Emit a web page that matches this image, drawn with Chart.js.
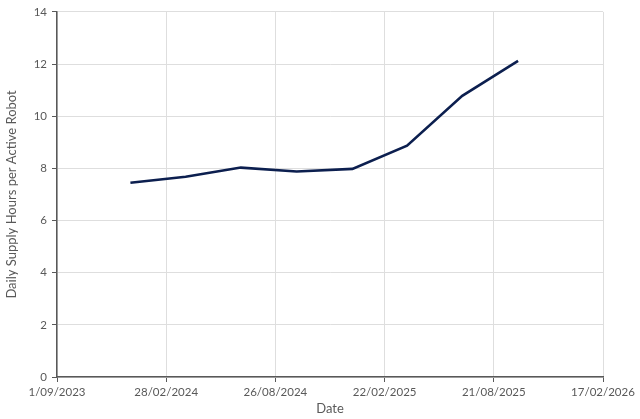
<!DOCTYPE html>
<html>
<head>
<meta charset="utf-8">
<script src="https://cdn.jsdelivr.net/npm/chart.js@4/dist/chart.umd.min.js"></script>
<style>
  html, body { margin: 0; padding: 0; background: #fff; }
  #wrap { width: 640px; height: 419px; }
</style>
</head>
<body>
<div id="wrap"><canvas id="chart" width="640" height="419"></canvas></div>
<script>
// quarter-end dates and values
const dates = ['2023-12-31', '2024-03-31', '2024-06-30', '2024-09-30', '2024-12-31', '2025-03-31', '2025-06-30', '2025-09-30'];
const hours = [7.45, 7.68, 8.03, 7.88, 7.98, 8.87, 10.78, 12.12];

// axis range: 1/09/2023 plus 5 steps of 180 days
const xStart = '2023-09-01';
const xStepDays = 180;
const xSteps = 5;
const yMax = 14;
const yStep = 2;

const DAY = 24 * 60 * 60 * 1000;
function toMs(s) {
  const p = s.split('-');
  return Date.UTC(+p[0], +p[1] - 1, +p[2]);
}
function fmtDate(ms) {
  const d = new Date(ms);
  const mm = String(d.getUTCMonth() + 1).padStart(2, '0');
  return d.getUTCDate() + '/' + mm + '/' + d.getUTCFullYear();
}

const points = dates.map(function (s, i) { return { x: toMs(s), y: hours[i] }; });
const xMin = toMs(xStart);
const xMax = xMin + xSteps * xStepDays * DAY;

const axisGrey = '#595959';
const gridGrey = '#dedede';
const fontFam = 'Lato, "Open Sans", sans-serif';

new Chart(document.getElementById('chart'), {
  type: 'line',
  data: {
    datasets: [{
      label: 'Daily Supply Hours per Active Robot',
      data: points,
      borderColor: '#0c1f4f',
      borderWidth: 2.6,
      pointRadius: 0,
      tension: 0,
      fill: false
    }]
  },
  options: {
    responsive: false,
    animation: false,
    layout: { padding: { top: 11, right: 37, left: 0, bottom: 0 } },
    plugins: {
      legend: { display: false },
      tooltip: { enabled: false }
    },
    scales: {
      x: {
        type: 'linear',
        min: xMin,
        max: xMax,
        afterFit: function (s) { s.height = 42; },
        ticks: {
          stepSize: xStepDays * DAY,
          maxRotation: 0,
          autoSkip: false,
          padding: 3,
          color: axisGrey,
          font: { family: fontFam, size: 11.5 },
          callback: function (v) { return fmtDate(v); }
        },
        grid: { color: gridGrey, tickColor: axisGrey, tickLength: 5, lineWidth: 1 },
        border: { color: axisGrey, width: 1.5 },
        title: {
          display: true,
          text: 'Date',
          color: axisGrey,
          font: { family: fontFam, size: 13 },
          padding: { top: 2, bottom: 2 }
        }
      },
      y: {
        min: 0,
        max: yMax,
        afterFit: function (s) { s.width = 57; },
        ticks: {
          stepSize: yStep,
          padding: 5,
          color: axisGrey,
          font: { family: fontFam, size: 11.5 }
        },
        grid: { color: gridGrey, tickColor: axisGrey, tickLength: 5, lineWidth: 1 },
        border: { color: axisGrey, width: 1.5 },
        title: {
          display: true,
          text: 'Daily Supply Hours per Active Robot',
          color: axisGrey,
          font: { family: fontFam, size: 13 },
          padding: { top: 4, bottom: 2 }
        }
      }
    }
  }
});
</script>
</body>
</html>
